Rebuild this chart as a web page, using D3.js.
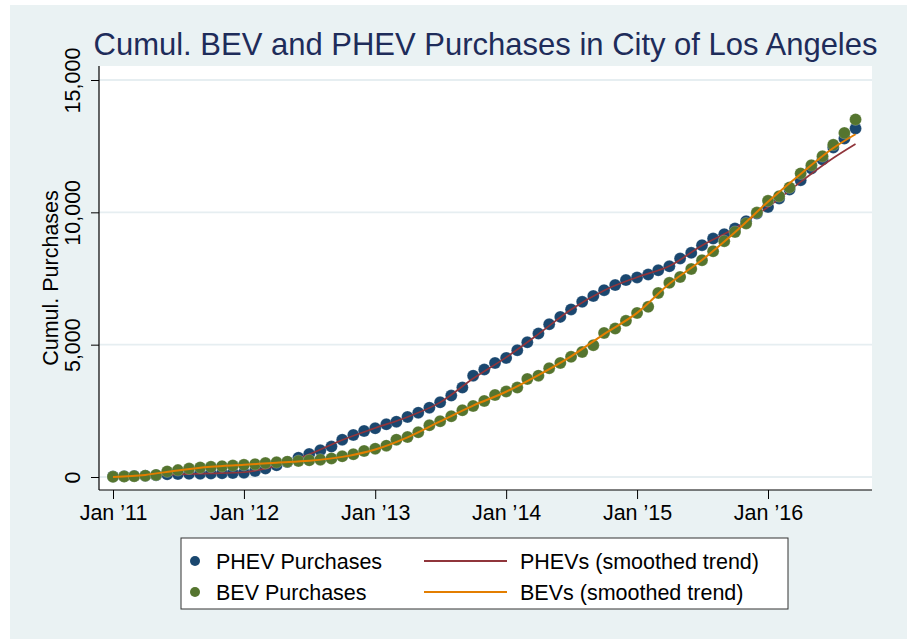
<!DOCTYPE html>
<html>
<head>
<meta charset="utf-8">
<script src="https://cdn.jsdelivr.net/npm/d3@7"></script>
<style>
  body { margin: 0; background: #ffffff; }
  svg { display: block; font-family: "Liberation Sans", Arial, sans-serif; }
</style>
</head>
<body>
<svg id="main-svg"></svg>
<script>
// DATA (monthly cumulative purchases, Jan 2011 .. Sep 2016)
const START_MONTH = new Date(2011, 0, 1);

const PHEV_PURCHASES = [
  20, 30, 40, 50, 70, 100, 110, 120, 125, 130, 140, 150,
  165, 230, 320, 440, 570, 730, 870, 1010, 1150, 1410, 1590, 1740,
  1840, 1990, 2090, 2270, 2430, 2620, 2820, 3075, 3380, 3830, 4060, 4310,
  4500, 4790, 5090, 5420, 5770, 6050, 6330, 6620, 6840, 7060, 7250, 7440,
  7540, 7650, 7810, 7960, 8255, 8470, 8760, 9010, 9175, 9390, 9665, 9955,
  10205, 10525, 10865, 11215, 11660, 12000, 12450, 12790, 13170
];

const BEV_PURCHASES = [
  10, 20, 30, 50, 80, 210, 260, 320, 360, 385, 410, 435,
  460, 485, 525, 555, 580, 605, 630, 655, 700, 780, 860, 985,
  1070, 1185, 1410, 1510, 1690, 1955, 2105, 2295, 2520, 2685, 2875, 3100,
  3230, 3380, 3705, 3830, 4110, 4310, 4540, 4725, 4980, 5445, 5610, 5900,
  6200, 6430, 6955, 7335, 7560, 7860, 8190, 8530, 8910, 9260, 9580, 9990,
  10435, 10610, 10940, 11470, 11780, 12120, 12550, 13000, 13510
];

// smoothed trends, read at these month indexes
const TREND_MONTHS = [0, 3, 6, 9, 12, 15, 18, 21, 24, 27, 30, 33, 36, 39, 42, 45, 48, 51, 54, 57, 60, 63, 66, 68];
const PHEV_TREND = [10, 50, 100, 135, 180, 430, 860, 1400, 1850, 2270, 2820, 3720, 4520, 5400, 6330, 7050, 7550, 7970, 8750, 9400, 10200, 11150, 12050, 12580];
const BEV_TREND = [0, 80, 250, 385, 460, 540, 610, 760, 1040, 1500, 2100, 2700, 3220, 3850, 4560, 5400, 6200, 7300, 8200, 9250, 10400, 11450, 12430, 12950];

const X_TICKS = [2011, 2012, 2013, 2014, 2015, 2016];
const Y_TICKS = [0, 5000, 10000, 15000];

const TITLE = "Cumul. BEV and PHEV Purchases in City of Los Angeles";
const Y_TITLE = "Cumul. Purchases";
const LEGEND_ROWS = [
  { dot: "PHEV Purchases", line: "PHEVs (smoothed trend)", dotColor: "#1a476f", lineColor: "#90353b" },
  { dot: "BEV Purchases", line: "BEVs (smoothed trend)", dotColor: "#55752f", lineColor: "#e37e00" }
];

// LAYOUT
CANVAS_WIDTH = 907
CANVAS_HEIGHT = 639
PLOT_LEFT = 99
PLOT_RIGHT = 872
PLOT_TOP = 66
PLOT_BOTTOM = 490
BG = "#eaf2f3"
GRID = "#e6eef1"
FONT_SIZE = 21.5
DOT_R = 6

const svg = d3.select("#main-svg")
  .attr("width", CANVAS_WIDTH)
  .attr("height", CANVAS_HEIGHT);

// graph region
svg.append("rect")
  .attr("x", 10).attr("y", 5)
  .attr("width", CANVAS_WIDTH - 10)
  .attr("height", CANVAS_HEIGHT - 5)
  .attr("fill", BG);

// plot region
svg.append("rect")
  .attr("x", PLOT_LEFT).attr("y", PLOT_TOP)
  .attr("width", PLOT_RIGHT - PLOT_LEFT)
  .attr("height", PLOT_BOTTOM - PLOT_TOP)
  .attr("fill", "white");

const x = d3.scaleTime()
  .domain([new Date(2011, 0, 1), new Date(2016, 0, 1)])
  .range([113, 768]);

const y = d3.scaleLinear()
  .domain([0, 15000])
  .range([477, 80]);

const monthDate = (i) => d3.timeMonth.offset(START_MONTH, i);

// gridlines
svg.append("g")
  .selectAll("line")
  .data(Y_TICKS)
  .enter()
  .append("line")
  .attr("x1", PLOT_LEFT).attr("x2", PLOT_RIGHT)
  .attr("y1", d => y(d)).attr("y2", d => y(d))
  .attr("stroke", GRID)
  .attr("stroke-width", 1.8);

// y axis
const yAxis = svg.append("g")
  .attr("transform", `translate(${PLOT_LEFT},0)`)
  .call(d3.axisLeft(y).tickValues(Y_TICKS).tickSize(8).tickFormat(d3.format(",")));
yAxis.select(".domain").remove();
yAxis.selectAll(".tick line").attr("stroke", "#000");
yAxis.selectAll(".tick text")
  .attr("x", null).attr("dy", null)
  .attr("transform", "translate(-19,0) rotate(-90)")
  .attr("text-anchor", "middle")
  .attr("font-size", FONT_SIZE)
  .attr("font-family", "Liberation Sans, Arial, sans-serif")
  .attr("fill", "#000");

// x axis
const xAxis = svg.append("g")
  .attr("transform", `translate(0,${PLOT_BOTTOM})`)
  .call(d3.axisBottom(x)
    .tickValues(X_TICKS.map(yr => new Date(yr, 0, 1)))
    .tickSize(9)
    .tickFormat(d => "Jan \u2019" + String(d.getFullYear()).slice(2)));
xAxis.select(".domain").remove();
xAxis.selectAll(".tick line").attr("stroke", "#000");
xAxis.selectAll(".tick text")
  .attr("y", 30).attr("dy", null)
  .attr("font-size", FONT_SIZE)
  .attr("font-family", "Liberation Sans, Arial, sans-serif")
  .attr("fill", "#000");

// axis lines
svg.append("line")
  .attr("x1", PLOT_LEFT).attr("x2", PLOT_LEFT)
  .attr("y1", PLOT_TOP).attr("y2", PLOT_BOTTOM)
  .attr("stroke", "#000").attr("stroke-width", 1.2);
svg.append("line")
  .attr("x1", PLOT_LEFT).attr("x2", PLOT_RIGHT)
  .attr("y1", PLOT_BOTTOM).attr("y2", PLOT_BOTTOM)
  .attr("stroke", "#000").attr("stroke-width", 1.2);

// marks
const trendLine = d3.line()
  .x(d => x(monthDate(d[0])))
  .y(d => y(d[1]))
  .curve(d3.curveMonotoneX);

const drawDots = (values, color) => {
  svg.append("g")
    .selectAll("circle")
    .data(values)
    .enter()
    .append("circle")
    .attr("cx", (_, i) => x(monthDate(i)))
    .attr("cy", d => y(d))
    .attr("r", DOT_R)
    .attr("fill", color)
    .attr("stroke", "rgba(255,255,255,0.35)")
    .attr("stroke-width", 0.6);
};

const drawTrend = (values, color, width) => {
  svg.append("path")
    .datum(TREND_MONTHS.map((m, i) => [m, values[i]]))
    .attr("d", trendLine)
    .attr("fill", "none")
    .attr("stroke", color)
    .attr("stroke-width", width);
};

drawDots(PHEV_PURCHASES, LEGEND_ROWS[0].dotColor);
drawTrend(PHEV_TREND, LEGEND_ROWS[0].lineColor, 1.7);
drawDots(BEV_PURCHASES, LEGEND_ROWS[1].dotColor);
drawTrend(BEV_TREND, LEGEND_ROWS[1].lineColor, 2);

// title (condensed a little, like the original)
svg.append("text")
  .attr("x", (PLOT_LEFT + PLOT_RIGHT) / 2)
  .attr("y", 55)
  .attr("text-anchor", "middle")
  .attr("font-size", 32)
  .attr("textLength", 784)
  .attr("lengthAdjust", "spacingAndGlyphs")
  .attr("fill", "#1e2c5a")
  .text(TITLE);

// y title
svg.append("text")
  .attr("transform", `translate(58,${(PLOT_TOP + PLOT_BOTTOM) / 2}) rotate(-90)`)
  .attr("text-anchor", "middle")
  .attr("font-size", FONT_SIZE)
  .attr("fill", "#000")
  .text(Y_TITLE);

// legend
const legend = svg.append("g");
legend.append("rect")
  .attr("x", 181).attr("y", 538)
  .attr("width", 607).attr("height", 71)
  .attr("fill", "white")
  .attr("stroke", "#333")
  .attr("stroke-width", 1);

LEGEND_ROWS.forEach((row, i) => {
  const cy = 561 + i * 31;
  legend.append("circle")
    .attr("cx", 195).attr("cy", cy).attr("r", 5)
    .attr("fill", row.dotColor);
  legend.append("text")
    .attr("x", 216).attr("y", cy + 7.5)
    .attr("font-size", FONT_SIZE)
    .text(row.dot);
  legend.append("line")
    .attr("x1", 424).attr("x2", 507)
    .attr("y1", cy).attr("y2", cy)
    .attr("stroke", row.lineColor)
    .attr("stroke-width", 1.8);
  legend.append("text")
    .attr("x", 520).attr("y", cy + 7.5)
    .attr("font-size", FONT_SIZE)
    .text(row.line);
});
</script>
</body>
</html>
